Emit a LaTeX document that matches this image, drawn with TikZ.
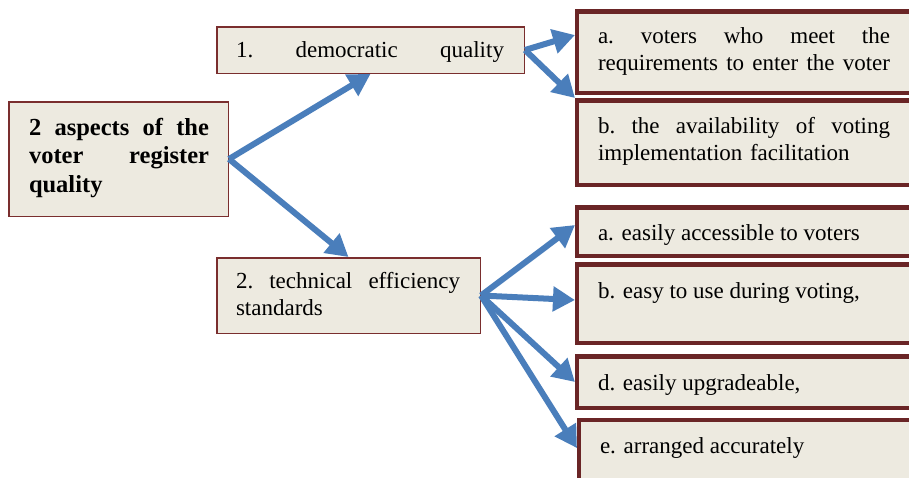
\documentclass[tikz,border=0pt]{standalone}
\usepackage{fontspec}
\setmainfont{Liberation Serif}
\usetikzlibrary{arrows.meta}
\definecolor{boxfill}{HTML}{EDEAE0}
\definecolor{thinred}{HTML}{7A2E2E}
\definecolor{thickred}{HTML}{6A2526}
\definecolor{arrblue}{HTML}{4A7EBB}
\newcommand{\jl}[1]{\noindent\hbox to \linewidth{#1}\par}
\tikzset{
  lbox/.style={draw=thinred, line width=1.5pt, fill=boxfill, inner sep=0pt},
  rbox/.style={draw=thickred, line width=4.5pt, fill=boxfill, inner sep=0pt},
  txt/.style={anchor=base west, inner sep=0pt, outer sep=0pt, align=left,
              font=\fontsize{23}{27}\selectfont},
  btxt/.style={txt, font=\fontsize{24.5}{28.5}\selectfont\bfseries},
  arr/.style={draw=arrblue, line width=6pt, -{Triangle[length=22pt,width=24pt]}},
}
\begin{document}
\begin{tikzpicture}[x=1pt, y=-1pt]
  \clip (0,0) rectangle (909,477);
  \fill[white] (0,0) rectangle (909,477);

  % left-side boxes
  \node[lbox, minimum width=219.5pt, minimum height=114.5pt] (main) at (118.5,159) {};
  \node[lbox, minimum width=307.5pt, minimum height=46.5pt] (box1) at (370.5,50) {};
  \node[lbox, minimum width=263.5pt, minimum height=75.5pt] (box2) at (348.5,295.5) {};

  % right-side boxes
  \node[rbox, minimum width=347.75pt, minimum height=81.5pt] (a1) at (751.1,52) {};
  \node[rbox, minimum width=347.75pt, minimum height=84.5pt] (b1) at (751.1,142.5) {};
  \node[rbox, minimum width=347.75pt, minimum height=48.5pt] (a2) at (751.1,231.5) {};
  \node[rbox, minimum width=347.75pt, minimum height=78.5pt] (b2) at (751.1,303.5) {};
  \node[rbox, minimum width=347.75pt, minimum height=51.5pt] (d) at (751.1,382) {};
  \node[rbox, minimum width=345.75pt, minimum height=79.75pt] (e) at (752.1,460.1) {};

  % texts
  \node[btxt, text width=180pt] (tmain) at (29,135)
    {\jl{2\hfill aspects\hfill of\hfill the}
     \jl{voter\hfill register}
     \noindent quality};
  \node[txt, text width=268pt] (t1) at (236,57)
    {\jl{1.\hfill democratic\hfill quality}};
  \node[txt, text width=224pt] (t2) at (236,288)
    {\jl{2.\hfill technical\hfill efficiency}
     \noindent standards};
  \node[txt, text width=292pt] (ta1) at (598,43)
    {\jl{a.\hfill voters\hfill who\hfill meet\hfill the}
     \jl{requirements\hfill to\hfill enter\hfill the\hfill voter}};
  \node[txt, text width=292pt] (tb1) at (598,133)
    {\jl{b.\hfill the\hfill availability\hfill of\hfill voting}
     \noindent implementation facilitation};
  \node[txt] (ta2) at (598,240) {a. easily accessible to voters};
  \node[txt] (tb2) at (598,298) {b. easy to use during voting,};
  \node[txt] (td) at (598,390) {d. easily upgradeable,};
  \node[txt] (te) at (600,453) {e. arranged accurately};

  % connectors
  \draw[arr] (main.east) -- (box1.south);
  \draw[arr] (main.east) -- (box2.north);
  \draw[arr] (box1.east) -- ([yshift=17pt]a1.west);
  \draw[arr] (box1.east) -- (b1.north west);
  \draw[arr] (box2.east) -- ([yshift=6.5pt]a2.west);
  \draw[arr] (box2.east) -- ([yshift=3.5pt]b2.west);
  \draw[arr] (box2.east) -- (d.west);
  \draw[arr] (box2.east) -- ([yshift=12pt]e.west);
\end{tikzpicture}
\end{document}
